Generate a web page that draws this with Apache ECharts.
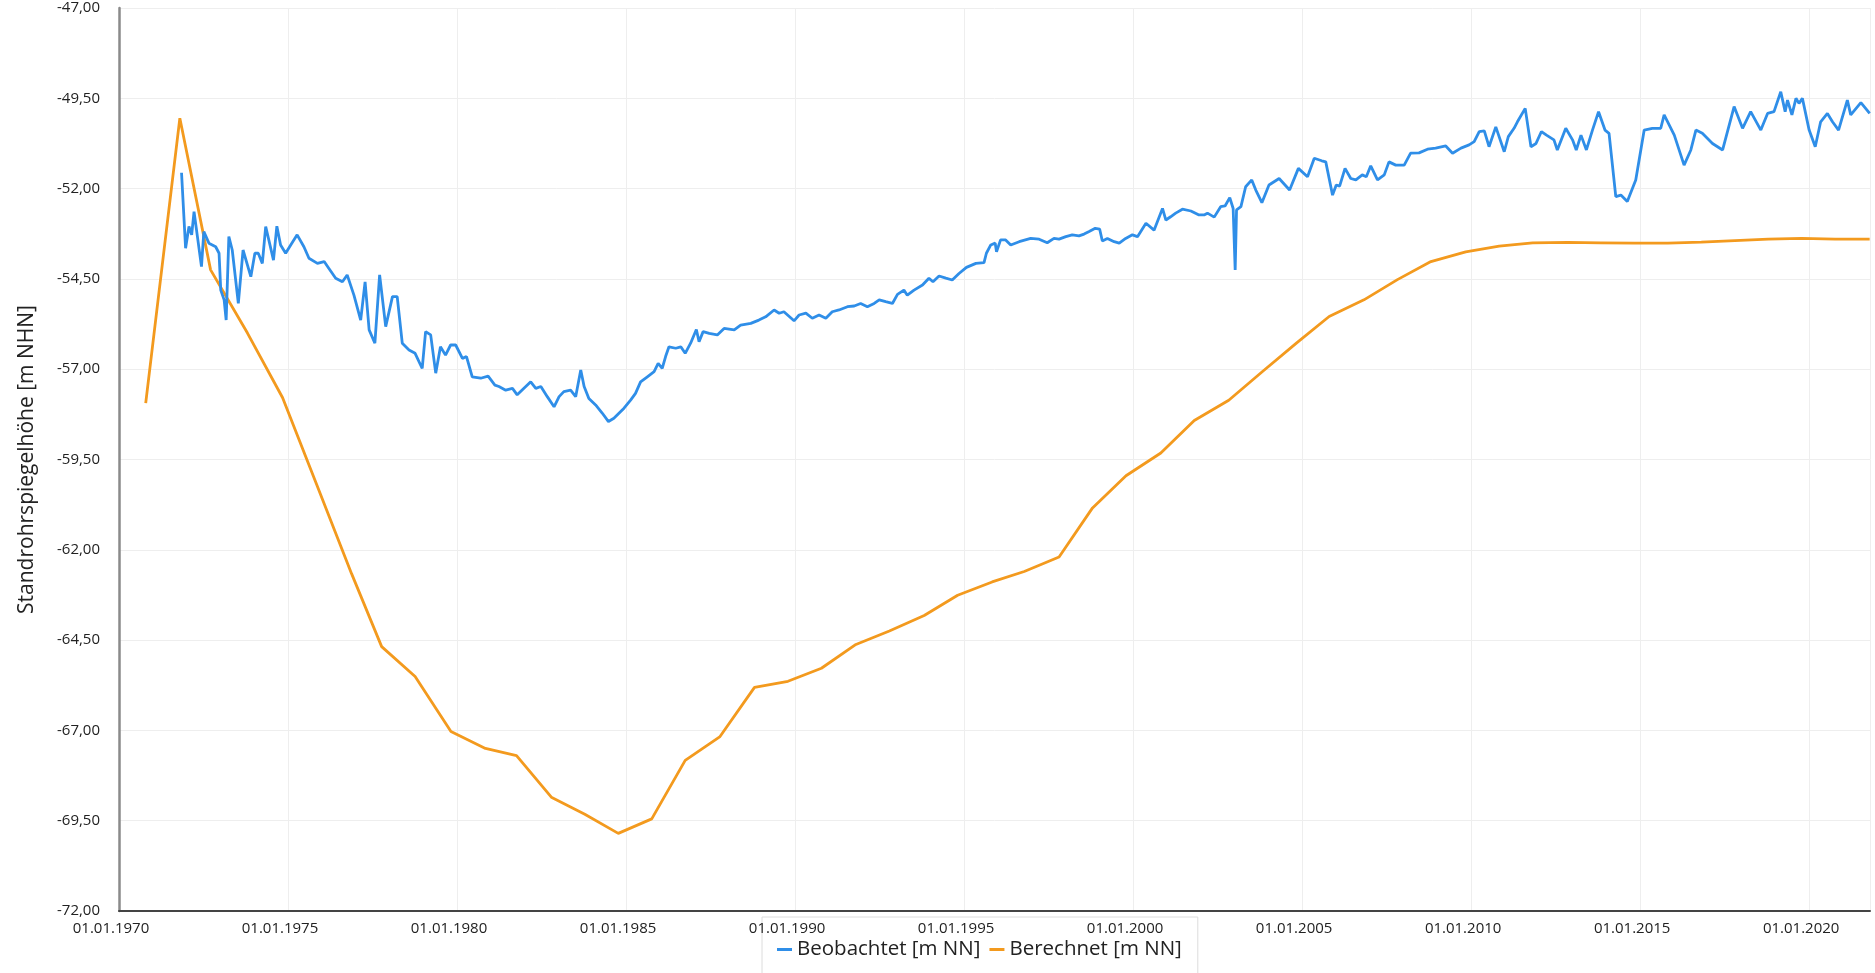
<!DOCTYPE html>
<html>
<head>
<meta charset="utf-8">
<script src="https://cdn.jsdelivr.net/npm/echarts@6/dist/echarts.min.js"></script>
<style>
html,body{margin:0;padding:0;background:#fff;}
#chart{width:1875px;height:973px;}
</style>
</head>
<body>
<div id="chart"></div>
<script>
// X axis tick labels (every 5 years)
const xTickYears = [1970, 1975, 1980, 1985, 1990, 1995, 2000, 2005, 2010, 2015, 2020];
// Y axis range
const yMin = -72, yMax = -47, yStep = 2.5;

// Beobachtet [m NN] (observed) — decimal years and values
const obsYears = [
 1971.85,1971.97,1972.07,1972.15,1972.22,1972.32,1972.44,1972.51,1972.66,1972.86,1972.96,1973.01,1973.11,1973.17,1973.25,1973.35,1973.53,1973.67,1973.90,1974.02,
 1974.12,1974.24,1974.34,1974.57,1974.67,1974.78,1974.93,1975.08,1975.27,1975.47,1975.62,1975.87,1976.07,1976.21,1976.41,1976.61,1976.75,1976.95,1977.15,1977.28,
 1977.40,1977.57,1977.71,1977.89,1978.09,1978.23,1978.38,1978.58,1978.76,1978.97,1979.07,1979.22,1979.37,1979.51,1979.66,1979.81,1979.96,1980.16,1980.28,1980.45,
 1980.70,1980.92,1981.12,1981.24,1981.44,1981.64,1981.78,1981.98,1982.18,1982.33,1982.48,1982.67,1982.87,1983.02,1983.16,1983.36,1983.51,1983.66,1983.76,1983.90,
 1984.10,1984.30,1984.48,1984.64,1984.79,1984.94,1985.14,1985.28,1985.43,1985.63,1985.83,1985.95,1986.07,1986.17,1986.27,1986.47,1986.62,1986.75,1986.91,1987.08,
 1987.16,1987.28,1987.46,1987.70,1987.90,1988.20,1988.39,1988.69,1988.93,1989.13,1989.38,1989.53,1989.67,1989.97,1990.12,1990.32,1990.51,1990.71,1990.91,1991.10,
 1991.30,1991.55,1991.75,1991.94,1992.14,1992.34,1992.49,1992.68,1992.88,1993.03,1993.22,1993.32,1993.52,1993.77,1993.96,1994.08,1994.26,1994.46,1994.65,1994.85,
 1995.07,1995.35,1995.59,1995.66,1995.79,1995.92,1995.96,1996.08,1996.23,1996.38,1996.63,1996.97,1997.22,1997.46,1997.66,1997.81,1998.01,1998.20,1998.40,1998.55,
 1998.70,1998.88,1999.01,1999.09,1999.24,1999.44,1999.59,1999.78,1999.98,2000.13,2000.38,2000.62,2000.87,2000.97,2001.11,2001.26,2001.46,2001.71,2001.95,2002.10,
 2002.20,2002.40,2002.59,2002.72,2002.86,2002.96,2003.02,2003.06,2003.19,2003.33,2003.51,2003.63,2003.81,2004.02,2004.32,2004.63,2004.89,2005.16,2005.36,2005.58,
 2005.70,2005.85,2005.90,2006.01,2006.11,2006.27,2006.44,2006.59,2006.78,2006.90,2007.03,2007.23,2007.43,2007.57,2007.77,2008.02,2008.21,2008.46,2008.71,2008.95,
 2009.25,2009.45,2009.70,2009.94,2010.09,2010.24,2010.39,2010.53,2010.73,2010.98,2011.10,2011.27,2011.37,2011.60,2011.77,2011.92,2012.08,2012.23,2012.45,2012.55,
 2012.80,2013.00,2013.11,2013.25,2013.41,2013.59,2013.77,2013.96,2014.08,2014.28,2014.43,2014.62,2014.87,2015.12,2015.36,2015.61,2015.71,2016.01,2016.30,2016.50,
 2016.65,2016.84,2017.14,2017.44,2017.78,2018.03,2018.27,2018.57,2018.77,2018.96,2019.16,2019.29,2019.36,2019.49,2019.61,2019.70,2019.80,2020.00,2020.18,2020.34,
 2020.54,2020.69,2020.87,2021.13,2021.23,2021.53,2021.67,2021.79
];
const obsValues = [
 -51.56,-53.65,-53.05,-53.28,-52.64,-53.33,-54.16,-53.19,-53.51,-53.61,-53.79,-54.81,-55.08,-55.64,-53.33,-53.70,-55.18,-53.70,-54.44,-53.79,
 -53.79,-54.07,-53.05,-53.98,-53.04,-53.56,-53.79,-53.56,-53.28,-53.61,-53.93,-54.07,-54.02,-54.21,-54.48,-54.58,-54.39,-54.95,-55.64,-54.58,
 -55.91,-56.28,-54.39,-55.82,-54.99,-54.99,-56.28,-56.47,-56.56,-56.98,-55.96,-56.05,-57.11,-56.38,-56.61,-56.33,-56.33,-56.70,-56.65,-57.21,
 -57.25,-57.19,-57.44,-57.48,-57.58,-57.53,-57.71,-57.53,-57.35,-57.53,-57.48,-57.76,-58.04,-57.76,-57.62,-57.58,-57.76,-57.02,-57.48,-57.81,
 -57.99,-58.22,-58.45,-58.36,-58.22,-58.08,-57.85,-57.67,-57.35,-57.21,-57.07,-56.84,-56.98,-56.65,-56.38,-56.42,-56.38,-56.56,-56.28,-55.90,
 -56.24,-55.96,-56.01,-56.05,-55.87,-55.91,-55.78,-55.73,-55.64,-55.55,-55.36,-55.45,-55.41,-55.66,-55.50,-55.45,-55.59,-55.50,-55.59,-55.41,
 -55.36,-55.27,-55.25,-55.18,-55.27,-55.18,-55.08,-55.13,-55.18,-54.93,-54.81,-54.95,-54.81,-54.67,-54.48,-54.58,-54.42,-54.48,-54.53,-54.35,
 -54.18,-54.07,-54.05,-53.79,-53.56,-53.51,-53.75,-53.42,-53.42,-53.56,-53.47,-53.38,-53.40,-53.50,-53.38,-53.40,-53.33,-53.28,-53.31,-53.26,
 -53.19,-53.10,-53.12,-53.45,-53.38,-53.47,-53.51,-53.38,-53.28,-53.33,-52.96,-53.15,-52.55,-52.87,-52.78,-52.68,-52.57,-52.62,-52.73,-52.73,
 -52.68,-52.79,-52.50,-52.48,-52.25,-52.55,-54.25,-52.59,-52.50,-51.95,-51.76,-52.04,-52.39,-51.90,-51.72,-52.04,-51.44,-51.67,-51.16,-51.23,
 -51.26,-51.95,-52.18,-51.90,-51.93,-51.44,-51.72,-51.76,-51.62,-51.67,-51.37,-51.76,-51.62,-51.26,-51.35,-51.35,-51.02,-51.01,-50.91,-50.88,
 -50.82,-51.02,-50.88,-50.79,-50.70,-50.42,-50.40,-50.84,-50.29,-50.98,-50.56,-50.33,-50.15,-49.78,-50.84,-50.75,-50.42,-50.52,-50.65,-50.93,
 -50.33,-50.65,-50.93,-50.52,-50.93,-50.38,-49.87,-50.38,-50.47,-52.22,-52.18,-52.36,-51.76,-50.38,-50.33,-50.33,-49.96,-50.52,-51.35,-50.93,
 -50.38,-50.47,-50.75,-50.93,-49.73,-50.33,-49.87,-50.38,-49.92,-49.87,-49.32,-49.87,-49.55,-49.96,-49.50,-49.64,-49.50,-50.38,-50.84,-50.15,
 -49.92,-50.15,-50.38,-49.55,-49.96,-49.62,-49.78,-49.92
];

// Berechnet [m NN] (calculated) — decimal years and values
const calcYears = [
 1970.79,1971.80,1972.71,1973.80,1974.84,1975.85,1976.88,1977.77,1978.76,1979.82,1980.84,1981.76,1982.79,1983.78,1984.77,1985.76,1986.75,1987.78,1988.80,1989.79,
 1990.78,1991.80,1992.79,1993.82,1994.81,1995.83,1996.78,1997.81,1998.80,1999.79,2000.82,2001.81,2002.83,2003.82,2004.84,2005.80,2006.83,2007.82,2008.81,2009.84,
 2010.83,2011.82,2012.85,2013.84,2014.83,2015.82,2016.81,2017.80,2018.79,2019.78,2020.77,2021.79
];
const calcValues = [
 -57.94,-50.05,-54.25,-56.00,-57.79,-60.20,-62.66,-64.68,-65.51,-67.03,-67.50,-67.70,-68.85,-69.32,-69.85,-69.45,-67.83,-67.17,-65.81,-65.64,
 -65.28,-64.62,-64.25,-63.82,-63.26,-62.89,-62.60,-62.20,-60.84,-59.95,-59.32,-58.42,-57.86,-57.07,-56.27,-55.54,-55.08,-54.52,-54.02,-53.75,
 -53.59,-53.50,-53.49,-53.50,-53.51,-53.51,-53.48,-53.44,-53.40,-53.38,-53.40,-53.40
];

const zip = (xs, ys) => xs.map((x, i) => [x, ys[i]]);

const chart = echarts.init(document.getElementById('chart'), null, {renderer: 'canvas'});
const FONT = '"Open Sans", "Noto Sans", sans-serif';

chart.setOption({
  animation: false,
  backgroundColor: '#ffffff',
  grid: {left: 119, right: 5, top: 8, bottom: 62, containLabel: false},
  legend: {
    left: 762, top: 917, z: 0,
    padding: [22, 16, 30, 15],
    borderColor: '#dcdcdc', borderWidth: 1, backgroundColor: 'transparent',
    icon: 'rect', itemWidth: 15, itemHeight: 3, itemGap: 9,
    textStyle: {fontFamily: FONT, fontSize: 20.5, color: '#222'},
    data: ['Beobachtet [m NN]', 'Berechnet [m NN]']
  },
  xAxis: {
    type: 'value', min: xTickYears[0], max: 2021.8, interval: 5,
    axisLine: {show: true, onZero: false, lineStyle: {color: '#444', width: 2}},
    axisTick: {show: false},
    splitLine: {show: true, lineStyle: {color: '#eeeeee', width: 1}},
    axisLabel: {
      showMaxLabel: false, margin: 10, padding: [0, 16, 0, 0],
      fontFamily: FONT, fontSize: 15, color: '#222',
      formatter: v => '01.01.' + Math.round(v)
    }
  },
  yAxis: {
    type: 'value', min: yMin, max: yMax, interval: yStep,
    name: 'Standrohrspiegelhöhe [m NHN]', nameLocation: 'middle', nameGap: 81,
    nameTextStyle: {fontFamily: FONT, fontSize: 21, color: '#222'},
    axisLine: {show: true, lineStyle: {color: '#8a8a8a', width: 2.5}},
    axisTick: {show: false},
    splitLine: {show: true, lineStyle: {color: '#eeeeee', width: 1}},
    axisLabel: {
      margin: 19, fontFamily: FONT, fontSize: 15, color: '#222',
      formatter: v => v.toFixed(2).replace('.', ',')
    }
  },
  series: [
    {name: 'Beobachtet [m NN]', type: 'line', data: zip(obsYears, obsValues), showSymbol: false,
     lineStyle: {color: '#2f8ee8', width: 2.8}, itemStyle: {color: '#2f8ee8'}, z: 3},
    {name: 'Berechnet [m NN]', type: 'line', data: zip(calcYears, calcValues), showSymbol: false,
     lineStyle: {color: '#f39a1e', width: 2.8}, itemStyle: {color: '#f39a1e'}, z: 2}
  ]
});
</script>
</body>
</html>
